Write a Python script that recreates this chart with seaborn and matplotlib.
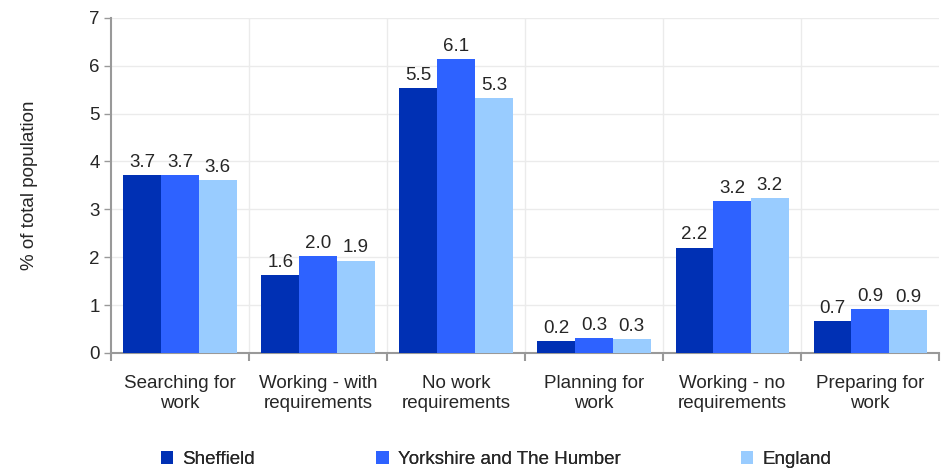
import pandas as pd
import matplotlib
matplotlib.use('Agg')
import matplotlib.pyplot as plt
import seaborn as sns

# Values
categories = ['Searching for\nwork', 'Working - with\nrequirements', 'No work\nrequirements',
              'Planning for\nwork', 'Working - no\nrequirements', 'Preparing for\nwork']
areas = ['Sheffield', 'Yorkshire and The Humber', 'England']
sheffield = [3.72, 1.62, 5.53, 0.24, 2.20, 0.66]
yorkshire = [3.72, 2.02, 6.14, 0.31, 3.18, 0.91]
england = [3.62, 1.93, 5.33, 0.29, 3.24, 0.89]
colours = ['#0030B4', '#2E62FF', '#99CCFF']

rows = []
for area, vals in zip(areas, [sheffield, yorkshire, england]):
    for cat, v in zip(categories, vals):
        rows.append({'category': cat, 'area': area, 'value': v})
df = pd.DataFrame(rows)

sns.set_style('white')
plt.rcParams['font.family'] = ['Liberation Sans', 'DejaVu Sans']
FS = 13.5

fig, ax = plt.subplots(figsize=(9.41, 4.70), dpi=100)
fig.subplots_adjust(left=0.118, right=0.998, top=0.962, bottom=0.249)

sns.barplot(data=df, x='category', y='value', hue='area', palette=colours,
            width=0.82, saturation=1, linewidth=0, ax=ax, zorder=3)

for cont in ax.containers:
    ax.bar_label(cont, fmt='%.1f', padding=3, fontsize=FS)

ax.set_ylim(0, 7)
ax.set_xlim(-0.5, len(categories) - 0.5)
ax.set_yticks(range(0, 8))
ax.set_xlabel('')
ax.set_ylabel('% of total population', fontsize=FS, labelpad=37)

# gridlines: horizontal at ticks, vertical between categories
ax.yaxis.grid(True, color='#EBEBEB', linewidth=1, zorder=0)
for b in range(1, len(categories)):
    ax.axvline(b - 0.5, color='#EBEBEB', linewidth=1, zorder=0)

for side in ['top', 'right']:
    ax.spines[side].set_visible(False)
for side in ['left', 'bottom']:
    ax.spines[side].set_color('#999999')
    ax.spines[side].set_linewidth(1.5)

ax.tick_params(axis='y', length=5, width=1, color='#999999', labelsize=FS, pad=3, left=True)
ax.set_xticks([i - 0.5 for i in range(len(categories) + 1)], minor=True)
ax.tick_params(axis='x', which='minor', length=6, width=1.5, color='#999999', bottom=True)
ax.tick_params(axis='x', which='major', length=0, labelsize=FS, pad=16)

# legend entries spaced like the original (one small legend per entry)
handles, labels = ax.get_legend_handles_labels()
ax.get_legend().remove()
legend_x = [0.171, 0.400, 0.787]
for h, lab, lx in zip(handles, labels, legend_x):
    leg = fig.legend([h], [lab], loc='center left', bbox_to_anchor=(lx, 0.022),
                     frameon=False, fontsize=FS, handlelength=0.65, handleheight=0.65,
                     handletextpad=0.5, borderaxespad=0, borderpad=0)
    fig.add_artist(leg)

plt.savefig('out.png', dpi=100)
plt.close()
